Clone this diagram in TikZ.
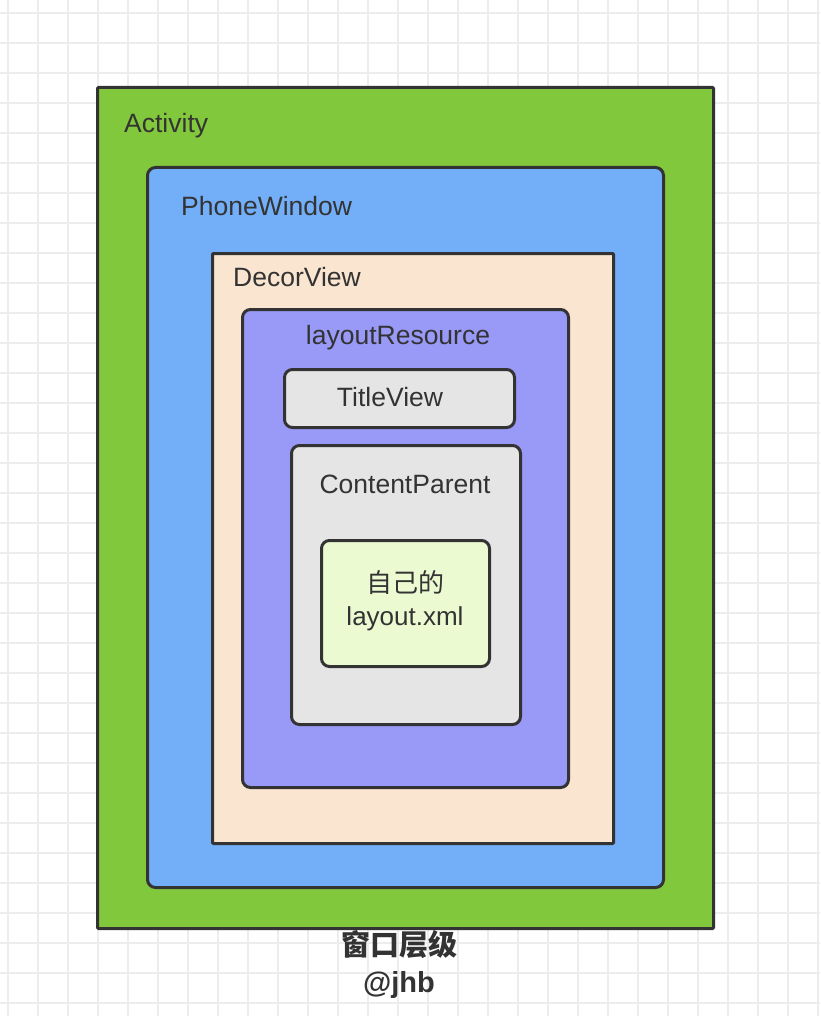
\documentclass[tikz,border=0pt]{standalone}
\usepackage{fontspec}
\setmainfont{Liberation Sans}
\newfontfamily\cjk{Noto Sans CJK SC}
\usepackage{xcolor}
\usetikzlibrary{positioning}

\definecolor{actgreen}{HTML}{82C83C}
\definecolor{winblue}{HTML}{72AFF8}
\definecolor{decorpeach}{HTML}{FAE5D1}
\definecolor{respurple}{HTML}{9999F7}
\definecolor{viewgray}{HTML}{E5E5E5}
\definecolor{xmlgreen}{HTML}{EBFAD1}
\definecolor{edgegray}{HTML}{333333}
\definecolor{gridgray}{HTML}{EDEDED}
\definecolor{textgray}{HTML}{333333}

\tikzset{
  layer/.style={draw=edgegray, line width=3pt, rounded corners=8pt,
    anchor=north west, inner sep=0pt},
  lbl/.style={text=textgray, inner sep=0pt, font=\fontsize{26.5}{30}\selectfont},
  gridline/.style={gridgray, line width=2pt}
}

\begin{document}
\begin{tikzpicture}[x=1pt, y=-1pt]
        % Canvas and grid
        \useasboundingbox (0,0) rectangle (820,1016);
        \fill[white] (0,0) rectangle (820,1016);
        \foreach \x in {8,38,...,818} {
            \draw[gridline] (\x,0) -- (\x,1016);
        }
        \foreach \y in {13,43,...,1003} {
            \draw[gridline] (0,\y) -- (820,\y);
        }

        % Nested layers
        \node[layer, fill=actgreen, rounded corners=1pt, minimum width=616pt, minimum height=841pt] (activity) at (96,86) {};
        \node[layer, fill=winblue, minimum width=516pt, minimum height=720pt] (phonewindow) at (146,166) {};
        \node[layer, fill=decorpeach, rounded corners=1pt, minimum width=401pt, minimum height=590pt] (decorview) at (211,252) {};
        \node[layer, fill=respurple, minimum width=326pt, minimum height=478pt] (layoutres) at (241,308) {};
        \node[layer, fill=viewgray, minimum width=230pt, minimum height=58pt] (titleview) at (283,368) {};
        \node[layer, fill=viewgray, minimum width=229pt, minimum height=279pt] (contentparent) at (290,444) {};
        \node[layer, fill=xmlgreen, minimum width=168pt, minimum height=126pt] (ownlayout) at (320,539) {};

        % Layer labels
        \node[lbl, anchor=west] (activitylbl) at (124,126) {Activity};
        \node[lbl, anchor=west] (phonewindowlbl) at (181,206) {PhoneWindow};
        \node[lbl, anchor=west] (decorviewlbl) at (233,277) {DecorView};
        \node[lbl] (layoutreslbl) at (398,338) {layoutResource};
        \node[lbl] (titleviewlbl) at (390,397) {TitleView};
        \node[lbl] (contentparentlbl) at (405,484) {ContentParent};
        \node[lbl, align=center, font=\fontsize{26}{33}\selectfont] (ownlayoutlbl) at (405,601) {{\cjk 自己的}\\layout.xml};

        % Caption
        \node[text=textgray, inner sep=0pt, align=center, font=\fontsize{29}{37}\selectfont\bfseries] (caption) at (399,964) {{\cjk 窗口层级}\\@jhb};
    \end{tikzpicture}
\end{document}
